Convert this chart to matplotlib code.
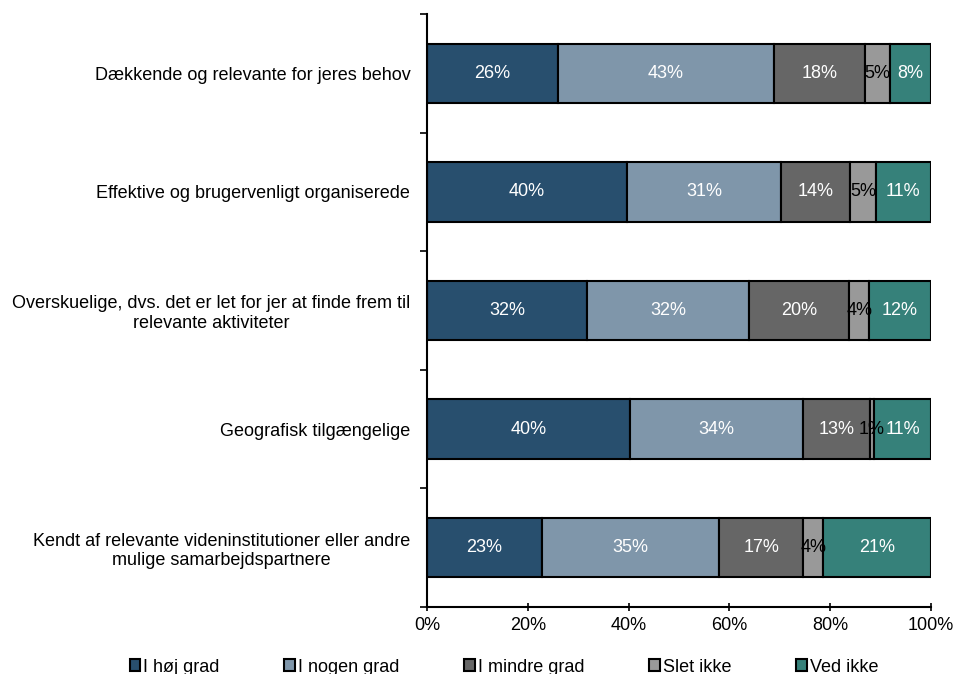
import matplotlib.pyplot as plt
import numpy as np

plt.rcParams['font.family'] = ['Liberation Sans', 'DejaVu Sans']

# categories, top to bottom
categories = [
    'Dækkende og relevante for jeres behov',
    'Effektive og brugervenligt organiserede',
    'Overskuelige, dvs. det er let for jer at finde frem til\nrelevante aktiviteter',
    'Geografisk tilgængelige',
    'Kendt af relevante videninstitutioner eller andre\nmulige samarbejdspartnere',
]
series = ['I høj grad', 'I nogen grad', 'I mindre grad', 'Slet ikke', 'Ved ikke']

hoej = [26.0, 39.6, 31.7, 40.3, 22.8]
nogen = [42.8, 30.7, 32.2, 34.3, 35.1]
mindre = [18.1, 13.7, 19.9, 13.3, 16.8]
slet = [5.0, 5.0, 3.9, 0.8, 3.9]
ved = [8.1, 11.0, 12.3, 11.3, 21.4]
values = [hoej, nogen, mindre, slet, ved]

colors = ['#284f6e', '#7f96aa', '#666666', '#999999', '#36817a']
text_colors = ['white', 'white', 'white', 'black', 'white']
fs = 13

fig = plt.figure(figsize=(9.54, 6.74), dpi=100)
ax = fig.add_axes([427/954, 1 - 607/674, 504/954, 593/674])

y = np.arange(len(categories))
left = np.zeros(len(categories))
for vals, name, col, tcol in zip(values, series, colors, text_colors):
    vals = np.array(vals)
    ax.barh(y, vals, left=left, height=0.5, color=col, edgecolor='black',
            linewidth=1.5, label=name)
    for yi, l, v in zip(y, left, vals):
        ax.text(l + v / 2, yi, f'{round(v):.0f}%', ha='center', va='center',
                color=tcol, fontsize=fs)
    left += vals

ax.set_xlim(0, 100)
ax.set_ylim(len(categories) - 0.5, -0.5)
ax.set_xticks(np.arange(0, 101, 20))
ax.set_xticklabels([f'{t}%' for t in range(0, 101, 20)], fontsize=fs)
ax.tick_params(axis='x', direction='inout', length=6, width=1.2, pad=4)

ax.set_yticks(np.arange(-0.5, len(categories), 1))
ax.set_yticklabels([])
ax.set_yticks(y, minor=True)
ax.set_yticklabels(categories, minor=True, fontsize=fs, multialignment='center')
ax.tick_params(axis='y', which='major', direction='out', length=5, width=1.2)
ax.tick_params(axis='y', which='minor', length=0, pad=12)

for s in ['top', 'right']:
    ax.spines[s].set_visible(False)
for s in ['left', 'bottom']:
    ax.spines[s].set_linewidth(1.5)

leg = fig.legend(loc='center', bbox_to_anchor=(504/954, 1 - 667/674), ncol=5,
                 frameon=False, fontsize=fs, handlelength=0.6, handleheight=0.6,
                 handletextpad=0.15, columnspacing=3.6)
for h in leg.legend_handles:
    h.set_linewidth(1.5)

fig.savefig('out.png', dpi=100)
